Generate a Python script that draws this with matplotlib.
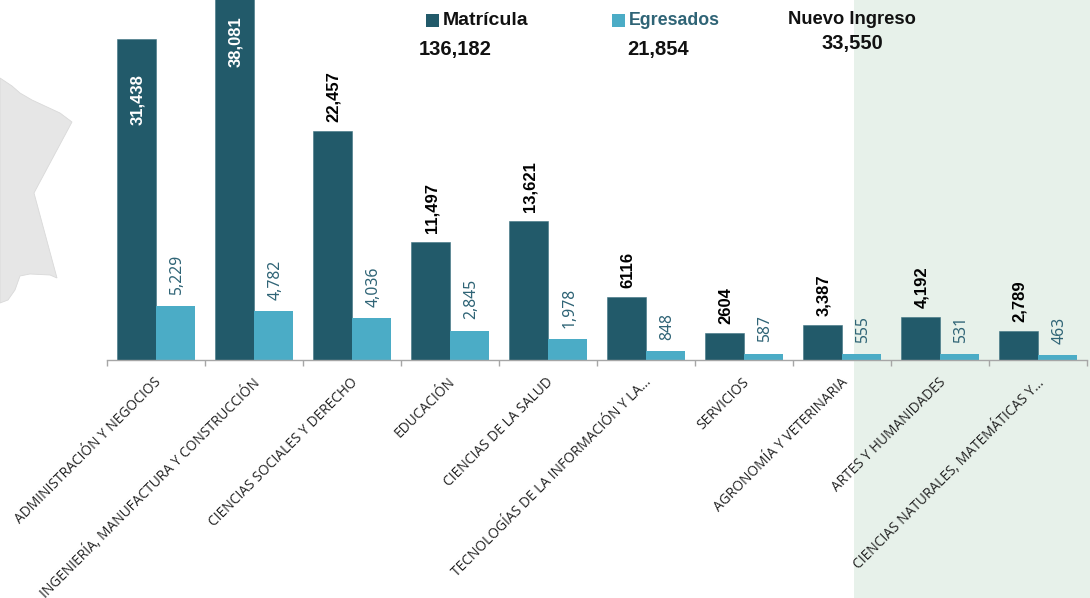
import numpy as np
import matplotlib
matplotlib.use("Agg")
import matplotlib.pyplot as plt
from matplotlib.patches import Rectangle, Polygon
from matplotlib.transforms import ScaledTranslation

categories = ["ADMINISTRACIÓN Y NEGOCIOS", "INGENIERÍA, MANUFACTURA Y CONSTRUCCIÓN",
              "CIENCIAS SOCIALES Y DERECHO", "EDUCACIÓN", "CIENCIAS DE LA SALUD",
              "TECNOLOGÍAS DE LA INFORMACIÓN Y LA...", "SERVICIOS",
              "AGRONOMÍA Y VETERINARIA", "ARTES Y HUMANIDADES",
              "CIENCIAS NATURALES, MATEMÁTICAS Y..."]
matricula = [31438, 38081, 22457, 11497, 13621, 6116, 2604, 3387, 4192, 2789]
egresados = [5229, 4782, 4036, 2845, 1978, 848, 587, 555, 531, 463]
matricula_labels = ["31,438", "38,081", "22,457", "11,497", "13,621", "6116", "2604", "3,387", "4,192", "2,789"]
egresados_labels = ["5,229", "4,782", "4,036", "2,845", "1,978", "848", "587", "555", "531", "463"]
totals = ["136,182", "21,854", "33,550"]

W, H = 1090, 598
DARK = "#225A6A"
LIGHT = "#4BACC6"
BOLD_FONT = ["Liberation Sans", "DejaVu Sans"]
plt.rcParams["font.family"] = ["Open Sans", "DejaVu Sans"]

fig = plt.figure(figsize=(W / 100, H / 100), dpi=100)


def fx(x):
    return x / W


def fy(y):
    return 1 - y / H


# background decoration
fig.add_artist(Rectangle((fx(854), 0), 1 - fx(854), 1, transform=fig.transFigure, color="#E7F1EA", lw=0, zorder=-5))
shape = [(0, 78), (12, 86), (20, 93), (32, 100), (60, 113), (72, 122), (34, 193), (57, 278), (50, 275),
         (30, 274), (20, 276), (15, 290), (8, 300), (0, 303)]
fig.add_artist(Polygon([(fx(a), fy(b)) for a, b in shape], transform=fig.transFigure,
                       facecolor="#E6E6E6", edgecolor="#D9D9D9", lw=0.6, zorder=-4))

ax = fig.add_axes([fx(107), fy(359.5), fx(980), fy(0) - fy(359.5)])
ax.patch.set_alpha(0)
x = np.arange(len(categories))
w = 0.4
ax.bar(x - w / 2, matricula, w, color=DARK, edgecolor="#3F7482", lw=0.4)
ax.bar(x + w / 2, egresados, w, color=LIGHT, lw=0)
ax.set_xlim(-0.5, 9.5)
ax.set_ylim(0, 359.5 * 98.24)

for i in range(len(categories)):
    if i == 0:
        # inside the bar, near its top
        ax.annotate(matricula_labels[i], (x[i] - w / 2, matricula[i]), xytext=(0.8, -25),
                    textcoords="offset points", rotation=90, ha="center", va="top",
                    color="white", fontsize=12, fontweight="bold", family=BOLD_FONT)
    elif i == 1:
        # bar runs off the top of the figure, so the label hangs from the top edge
        ax.annotate(matricula_labels[i], (x[i] - w / 2, ax.get_ylim()[1]), xytext=(0.8, -11.5),
                    textcoords="offset points", rotation=90, ha="center", va="top",
                    color="white", fontsize=12, fontweight="bold", family=BOLD_FONT)
    else:
        ax.annotate(matricula_labels[i], (x[i] - w / 2, matricula[i]), xytext=(0.8, 6.5),
                    textcoords="offset points", rotation=90, ha="center", va="bottom",
                    color="black", fontsize=12, fontweight="bold", family=BOLD_FONT)
    ax.annotate(egresados_labels[i], (x[i] + w / 2, egresados[i]), xytext=(1.2, 8),
                textcoords="offset points", rotation=90, ha="center", va="bottom",
                color="#2F6476", fontsize=11.3, family="Noto Sans")

for s in ["top", "left", "right"]:
    ax.spines[s].set_visible(False)
ax.spines["bottom"].set_color("#A6A6A6")
ax.spines["bottom"].set_linewidth(1)
ax.set_yticks([])
ax.set_xticks(x)
ax.set_xticklabels(categories, rotation=45, ha="right", va="top", rotation_mode="anchor",
                   fontsize=9.9, color="#222222")
ax.tick_params(axis="x", which="major", length=0, pad=11)
shift = ScaledTranslation(-2 / 100, 0, fig.dpi_scale_trans)
for lab in ax.get_xticklabels():
    lab.set_transform(lab.get_transform() + shift)
ax.set_xticks(np.arange(-0.5, 10), minor=True)
ax.tick_params(axis="x", which="minor", length=4, color="#A6A6A6", width=1)

# header
head = dict(transform=fig.transFigure, fontweight="bold", family=BOLD_FONT)
fig.add_artist(Rectangle((fx(426), fy(27)), fx(13), fy(14) - fy(27), transform=fig.transFigure, color=DARK, lw=0))
fig.add_artist(Rectangle((fx(612), fy(27)), fx(13), fy(14) - fy(27), transform=fig.transFigure, color=LIGHT, lw=0))
fig.text(fx(443), fy(20.5), "Matrícula", va="center", color="#111111", fontsize=14, **head)
fig.text(fx(629), fy(20.5), "Egresados", va="center", color="#2F6476", fontsize=12.8, **head)
fig.text(fx(852), fy(19), "Nuevo Ingreso", va="center", ha="center", color="#111111", fontsize=13.2, **head)
fig.text(fx(455), fy(50), totals[0], va="center", ha="center", color="#111111", fontsize=14.5, **head)
fig.text(fx(658), fy(50), totals[1], va="center", ha="center", color="#111111", fontsize=14.5, **head)
fig.text(fx(852), fy(44), totals[2], va="center", ha="center", color="#111111", fontsize=14.5, **head)

fig.savefig("out.png", dpi=100)
